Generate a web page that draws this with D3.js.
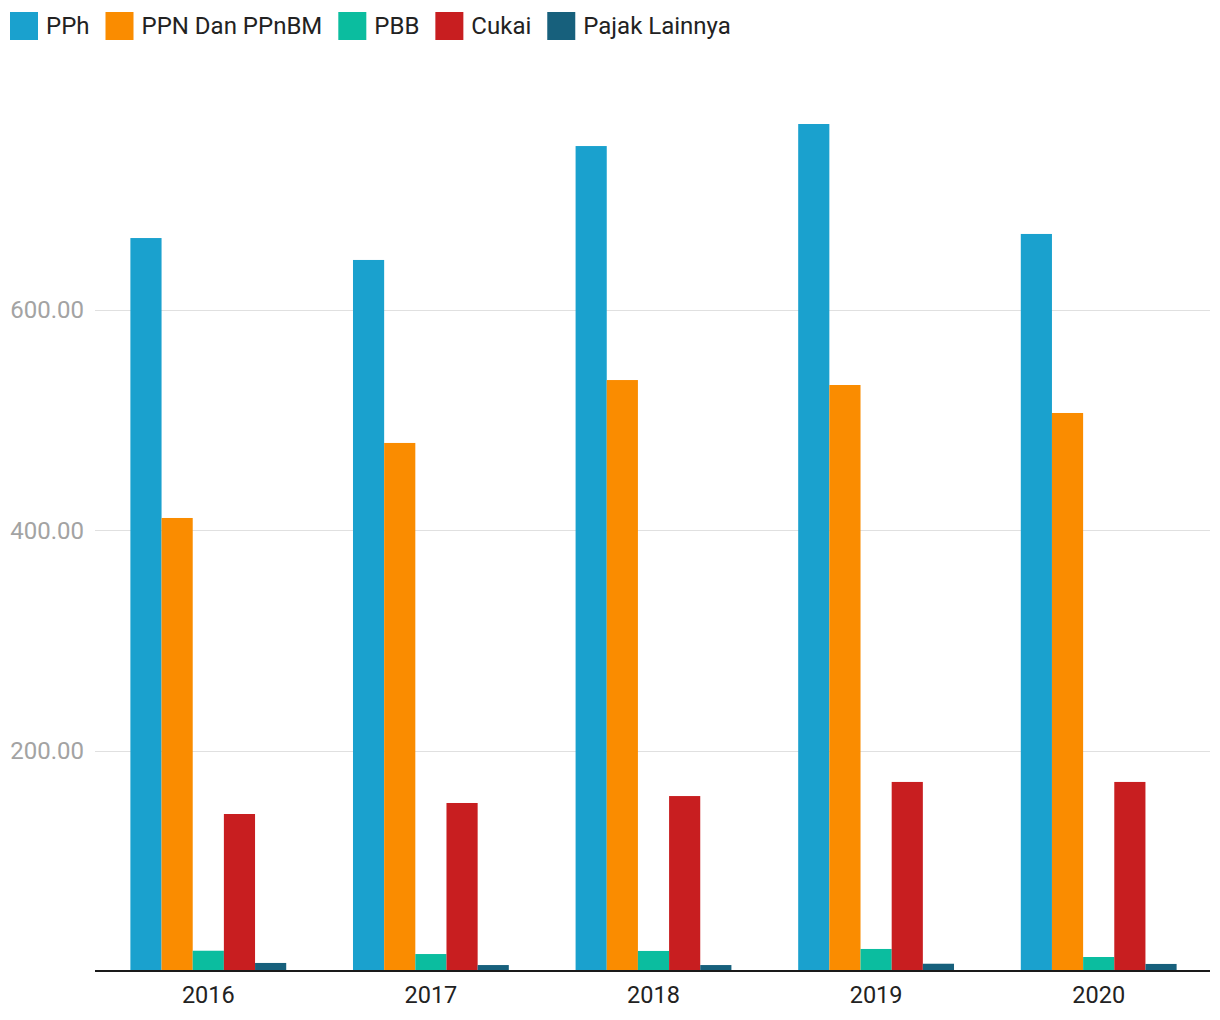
<!DOCTYPE html>
<html><head><meta charset="utf-8">
<script src="https://cdn.jsdelivr.net/npm/d3@7"></script>
<style>body{margin:0;background:#fff;font-family:Roboto,sans-serif;}</style>
</head><body><svg id="c" width="1220" height="1020"></svg>
<script>
const years = ["2016","2017","2018","2019","2020"];
const seriesNames = ["PPh","PPN Dan PPnBM","PBB","Cukai","Pajak Lainnya"];
const colors = ["#1aa1ce","#fa8c00","#0bbd9f","#c81e20","#17607c"];
const pph = [665.3, 645.4, 748.8, 768.8, 669.0];
const ppn = [411.2, 479.3, 536.4, 531.9, 506.5];
const pbb = [18.4, 15.4, 18.2, 20.0, 12.7];
const cukai = [142.5, 152.5, 158.8, 171.6, 171.6];
const lainnya = [7.3, 5.4, 5.4, 6.6, 6.4];
const yTicks = [200, 400, 600];
const allSeries = [pph, ppn, pbb, cukai, lainnya];

const svg = d3.select("#c");
const mLeft = 95, mRight = 1210, mBottom = 971;
const x = d3.scaleBand().domain(years).range([mLeft + 2, mRight]).paddingInner(0.3).paddingOuter(0.15);
const xs = d3.scaleBand().domain(seriesNames).range([0, x.bandwidth()]);
const y = d3.scaleLinear().domain([0, 800]).range([mBottom, mBottom - 800 * 1.1017]);

// grid
svg.append("g").selectAll("line").data(yTicks).join("line")
  .attr("x1", mLeft).attr("x2", mRight).attr("y1", d => Math.round(y(d)) + 0.5).attr("y2", d => Math.round(y(d)) + 0.5)
  .attr("stroke", "#e0e0e0").attr("stroke-width", 1);
svg.append("g").selectAll("text").data(yTicks).join("text")
  .attr("x", 84).attr("y", d => y(d)).attr("dy", "0.35em").attr("text-anchor", "end")
  .attr("font-size", 24).attr("fill", "#a3a3a3").text(d => d3.format(".2f")(d));

// bars
const g = svg.append("g");
seriesNames.forEach((s, si) => {
  g.append("g").selectAll("rect").data(years).join("rect")
    .attr("x", d => x(d) + xs(s))
    .attr("width", xs.bandwidth())
    .attr("y", (d, i) => y(allSeries[si][i]))
    .attr("height", (d, i) => mBottom - y(allSeries[si][i]))
    .attr("fill", colors[si]);
});

// x axis
const xa = svg.append("g").attr("transform", `translate(0,${mBottom})`)
  .call(d3.axisBottom(x).tickSize(0).tickPadding(15));
xa.select(".domain").remove();
xa.append("line").attr("x1", mLeft).attr("x2", mRight).attr("y1", 0).attr("y2", 0)
  .attr("stroke", "#1a1a1a").attr("stroke-width", 2);
xa.selectAll("text").attr("font-size", 23.5).attr("fill", "#222").attr("font-family", "Roboto, sans-serif");

// legend
const legend = svg.append("g").attr("transform", "translate(10,12)");
let lx = 0;
seriesNames.forEach((s, i) => {
  const item = legend.append("g").attr("transform", `translate(${lx},0)`);
  item.append("rect").attr("width", 28).attr("height", 28).attr("fill", colors[i]);
  const t = item.append("text").attr("x", 36).attr("y", 14).attr("dy", "0.35em")
    .attr("font-size", 24).attr("fill", "#222").text(s);
  lx += 36 + t.node().getComputedTextLength() + 16;
});
</script></body></html>
